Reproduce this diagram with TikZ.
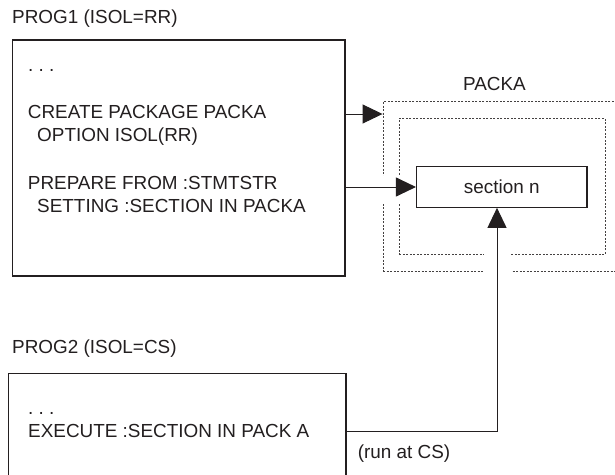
\documentclass[tikz,border=0pt]{standalone}
\usepackage{fontspec}
\setmainfont{Liberation Sans}
\usetikzlibrary{arrows.meta}
\definecolor{ink}{RGB}{35,31,32}
\tikzset{
  txt/.style={anchor=base west, inner sep=0pt, text=ink, font=\fontsize{18.9}{22}\selectfont},
  ctxt/.style={txt, anchor=base},
  box/.style={draw=ink, line width=1.1pt, inner sep=0pt, text=ink, font=\fontsize{18.9}{22}\selectfont},
  dotbox/.style={draw=ink!85, line width=0.9pt, dash pattern=on 2pt off 1.5pt, inner sep=0pt},
  gapfill/.style={fill=white, draw=none},
  arr/.style={draw=ink, line width=1pt, -{Triangle[length=20pt,width=19pt]}},
}
\begin{document}
\begin{tikzpicture}[x=1pt,y=-1pt]
\clip (0,0) rectangle (615,474);
\fill[white] (0,0) rectangle (615,474);
% labels
\node[txt] (l1) at (12,23.5) {PROG1 (ISOL=RR)};
\node[txt] (l2) at (12,353) {PROG2 (ISOL=CS)};
% PROG1 box
\node[box, minimum width=332.5pt, minimum height=236pt] (prog1) at (178.75,158) {};
\node[txt] (t1) at (28,71) {.\ .\ .};
\node[txt] (t2) at (27.7,118) {CREATE PACKAGE PACKA};
\node[txt] (t3) at (37,141.7) {OPTION ISOL(RR)};
\node[txt] (t4) at (27.7,189) {PREPARE FROM :STMTSTR};
\node[txt] (t5) at (37,212.7) {SETTING :SECTION IN PACKA};
% PROG2 box
\node[box, minimum width=337.3pt, minimum height=126.7pt] (prog2) at (177.35,436.65) {};
\node[txt] (t6) at (28,414) {.\ .\ .};
\node[txt] (t7) at (28,437) {EXECUTE :SECTION IN PACK A};
\node[txt] (t8) at (357.6,458) {(run at CS)};
% PACKA
\node[ctxt] (pl) at (494.5,90.7) {PACKA};
\node[dotbox, minimum width=242pt, minimum height=170pt] (outer) at (504,186.7) {};
\node[dotbox, minimum width=205.7pt, minimum height=136pt] (inner) at (502.15,186.3) {};
\fill[gapfill] (483.5,245) rectangle (511,280);
\fill[gapfill] (375,176) rectangle (405,204);
\node[box, fill=white, minimum width=170.5pt, minimum height=40.6pt] (sec) at (501.75,187) {section n};
% connectors
\coordinate (y1) at (0,114);
\coordinate (y3) at (0,431.7);
\coordinate (vx) at (497,0);
\draw[arr] (prog1.east |- y1) -- (outer.west |- y1);
\draw[arr] (prog1.east |- sec.west) -- (sec.west);
\draw[arr] (prog2.east |- y3) -| (sec.south -| vx);
\end{tikzpicture}
\end{document}
